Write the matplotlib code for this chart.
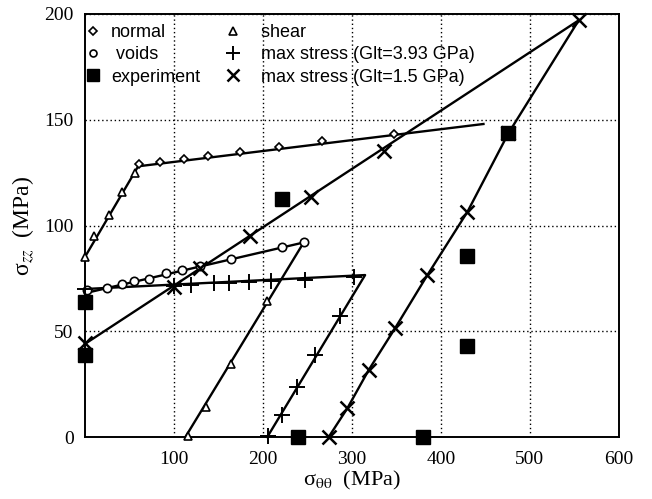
import matplotlib
matplotlib.use("Agg")
import matplotlib.pyplot as plt
from matplotlib.lines import Line2D

plt.rcParams['mathtext.fontset'] = 'stix'

# failure envelopes (sigma_theta, sigma_zz) in MPa
normal_env_x = [0, 60, 448]
normal_env_y = [85, 128, 148]
voids_env_x = [0, 246, 113]
voids_env_y = [68, 92, 0]
glt393_env_x = [0, 315, 205]
glt393_env_y = [70, 76.6, 0]
glt15_env_x = [0, 555, 476, 430, 385, 349, 319, 295, 274]
glt15_env_y = [44, 197, 143.6, 106.5, 76.6, 51.7, 31.7, 13.6, 0]

# marker points
normal_x = [61, 84, 112, 139, 174, 218, 267, 348]
normal_y = [128.9, 130.2, 131.4, 132.9, 134.9, 137.3, 139.8, 143.4]
shear_x = [0, 10, 27, 42, 57, 116, 136, 164, 205]
shear_y = [85, 95, 105, 116, 125, 0.5, 14.3, 34.4, 64.3]
voids_x = [3, 25, 42, 55, 72, 91, 109, 130, 164, 222, 246]
voids_y = [69.5, 70.3, 72.3, 73.8, 74.9, 77.7, 79, 81, 84, 89.7, 92.3]
glt393_x = [0, 100, 119, 145, 162, 184, 209, 248, 302, 287, 259, 239, 222, 206]
glt393_y = [70, 71.3, 71.9, 72.7, 72.7, 73.1, 73.8, 74.2, 75.5, 57.2, 38.8, 23.5, 10.4, 0.5]
glt15_x = [0, 100, 130, 186, 254, 336, 555, 476, 430, 385, 349, 319, 295, 274]
glt15_y = [44.3, 70.8, 79.8, 95.2, 113.6, 135.4, 197, 143.6, 106.5, 76.6, 51.7, 31.7, 13.6, 0]
exp_x = [0, 0, 222, 240, 380, 430, 430, 476]
exp_y = [64, 39, 112.5, 0, 0, 85.7, 43, 143.6]

fig = plt.figure(figsize=(6.52, 4.99), dpi=100)
ax = fig.add_axes([0.130, 0.124, 0.819, 0.848])

for ex, ey in [(normal_env_x, normal_env_y), (voids_env_x, voids_env_y),
               (glt393_env_x, glt393_env_y), (glt15_env_x, glt15_env_y)]:
    ax.plot(ex, ey, '-', color='black', lw=1.7, clip_on=False, zorder=2)

mk = dict(color='black', ls='none', clip_on=False, zorder=3)
ax.plot(normal_x, normal_y, marker='D', ms=4.5, mfc='white', mew=1.2, **mk)
ax.plot(voids_x, voids_y, marker='o', ms=6, mfc='white', mew=1.2, **mk)
ax.plot(shear_x, shear_y, marker='^', ms=6, mfc='white', mew=1.2, **mk)
ax.plot(glt393_x, glt393_y, marker='+', ms=11, mew=1.4, **mk)
ax.plot(glt15_x, glt15_y, marker='x', ms=10, mew=1.8, **mk)
ax.plot(exp_x, exp_y, marker='s', ms=10, mfc='black', **mk)

ax.set_xlim(0, 600)
ax.set_ylim(0, 200)
ax.set_xticks([100, 200, 300, 400, 500, 600])
ax.set_yticks([0, 50, 100, 150, 200])
ax.tick_params(length=0, labelsize=14, pad=8)
ax.tick_params(axis='x', pad=10)
for lab in ax.get_xticklabels() + ax.get_yticklabels():
    lab.set_family('Liberation Serif')
ax.grid(True, color='black', ls=(0, (1, 2)), lw=1.0)
for sp in ax.spines.values():
    sp.set_linewidth(1.4)

ax.set_xlabel(r'σ$_{\mathrm{\theta\theta}}$  (MPa)', fontsize=16, family='Liberation Serif', labelpad=1)
ax.set_ylabel(r'σ$_{zz}$  (MPa)', fontsize=17, family='Liberation Serif', labelpad=6)

handles = [
    Line2D([], [], marker='D', ms=4.5, mfc='white', mew=1.2, color='black', ls='none'),
    Line2D([], [], marker='o', ms=5, mfc='white', mew=1.2, color='black', ls='none'),
    Line2D([], [], marker='s', ms=9, mfc='black', color='black', ls='none'),
    Line2D([], [], marker='^', ms=5.5, mfc='white', mew=1.2, color='black', ls='none'),
    Line2D([], [], marker='+', ms=10, mew=1.4, color='black', ls='none'),
    Line2D([], [], marker='x', ms=9, mew=1.8, color='black', ls='none'),
]
labels = ['normal', ' voids', 'experiment', '  shear',
          '  max stress (Glt=3.93 GPa)', '  max stress (Glt=1.5 GPa)']
ax.legend(handles, labels, ncol=2, loc='upper left', bbox_to_anchor=(-0.017, 1.0),
          frameon=False, prop={'family': 'Liberation Sans', 'size': 13},
          handlelength=0.8, handletextpad=0.6, columnspacing=1.4,
          labelspacing=0.3, borderaxespad=0.3, borderpad=0.25)

fig.savefig('out.png', dpi=100)
